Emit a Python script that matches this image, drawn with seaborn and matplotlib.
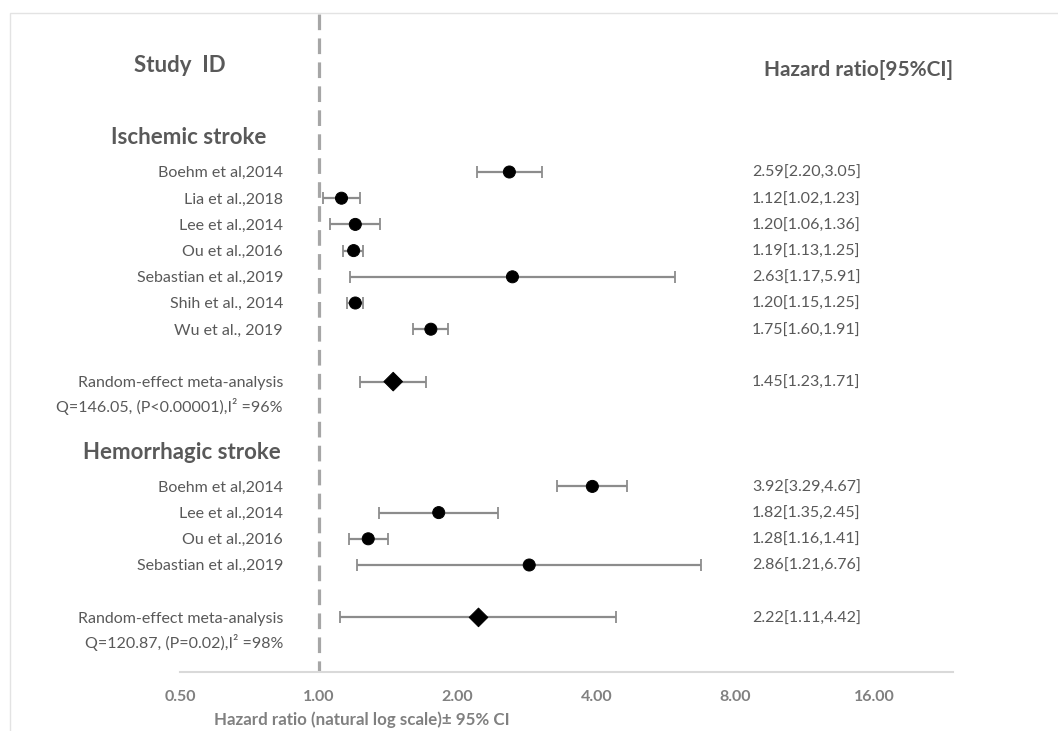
import numpy as np
import pandas as pd
import matplotlib
matplotlib.use("Agg")
import matplotlib.pyplot as plt
from matplotlib.patches import Rectangle
from matplotlib.transforms import blended_transform_factory
import seaborn as sns

# data
groups = ["Ischemic stroke"] * 8 + ["Hemorrhagic stroke"] * 5
studies = ["Boehm et al,2014", "Lia et al.,2018", "Lee et al.,2014", "Ou et al.,2016",
           "Sebastian et al.,2019", "Shih et al., 2014", "Wu et al., 2019",
           "Random-effect meta-analysis",
           "Boehm et al,2014", "Lee et al.,2014", "Ou et al.,2016",
           "Sebastian et al.,2019", "Random-effect meta-analysis"]
kinds = ["study"] * 7 + ["meta"] + ["study"] * 4 + ["meta"]
hr = [2.59, 1.12, 1.20, 1.19, 2.63, 1.20, 1.75, 1.45, 3.92, 1.82, 1.28, 2.86, 2.22]
ci_low = [2.20, 1.02, 1.06, 1.13, 1.17, 1.15, 1.60, 1.23, 3.29, 1.35, 1.16, 1.21, 1.11]
ci_high = [3.05, 1.23, 1.36, 1.25, 5.91, 1.25, 1.91, 1.71, 4.67, 2.45, 1.41, 6.76, 4.42]
heterogeneity = ["Q=146.05, (P<0.00001),I\u00b2 =96%", "Q=120.87, (P=0.02),I\u00b2 =98%"]
x_ticks = [0.5, 1, 2, 4, 8, 16]
x_axis_max = 23.7

TEXT = "#595959"
W, H = 1058, 731

df = pd.DataFrame({"group": groups, "study": studies, "kind": kinds,
                   "hr": hr, "lo": ci_low, "hi": ci_high})

# row layout: studies stacked, a blank row before each meta line, gap between groups
rows = []
r = -1
prev = None
for g, k in zip(df["group"], df["kind"]):
    r += 1
    if prev is not None and g != prev:
        r += 3
    if k == "meta":
        r += 1
    rows.append(r)
    prev = g
df["row"] = rows

sns.set_style("white")
plt.rcParams["font.family"] = ["Lato", "DejaVu Sans"]

fig = plt.figure(figsize=(W / 100, H / 100), dpi=100)
ax = fig.add_axes([0, 0, 1, 1])
ax.set_xscale("log", base=2)

# pixel mapping: 0.5 -> 180px, 16 -> 874px
k = (874 - 180) / 5.0
ax.set_xlim(2 ** (-1 - 180 / k), 2 ** (4 + (W - 874) / k))
row_px = 26.2
ax.set_ylim((H - 172) / row_px, -172 / row_px)
axis_y = (672 - 172) / row_px

ax.errorbar(df["hr"], df["row"], xerr=[df["hr"] - df["lo"], df["hi"] - df["hr"]],
            fmt="none", ecolor="#8c8c8c", elinewidth=1.6, capsize=4, capthick=1.3, zorder=2)
sns.scatterplot(data=df, x="hr", y="row", style="kind", size="kind",
                markers={"study": "o", "meta": "D"}, sizes={"study": 75, "meta": 90},
                color="black", edgecolor="black", legend=False, ax=ax, zorder=3)

# reference line at HR = 1, from the top of the chart down to the axis
ax.vlines(1, -172 / row_px + 14 / row_px, axis_y, color="#a6a6a6", lw=2.3,
          linestyles=[(0, (4.9, 2.6))], zorder=1)

# axis styling
for s in ["top", "right", "left"]:
    ax.spines[s].set_visible(False)
ax.spines["bottom"].set_position(("data", axis_y))
ax.spines["bottom"].set_bounds(0.5, x_axis_max)
ax.spines["bottom"].set_color("#d9d9d9")
ax.spines["bottom"].set_linewidth(1.5)
ax.set_xticks(x_ticks)
ax.set_xticklabels([f"{t:.2f}" for t in x_ticks])
ax.minorticks_off()
ax.tick_params(axis="x", direction="out", length=6, width=1.2, color="#d9d9d9",
               labelcolor="#808080", labelsize=11.5, pad=7)
for lbl in ax.get_xticklabels():
    lbl.set_fontweight("bold")
ax.set_yticks([])
ax.set_xlabel("")
ax.set_ylabel("")

tr = blended_transform_factory(fig.transFigure, ax.transData)
label_x = 283 / W
value_x = 752 / W
for _, row in df.iterrows():
    if row["kind"] == "study":
        ax.text(label_x, row["row"] + 0.05, row["study"], transform=tr, ha="right",
                va="center", fontsize=11.5, color=TEXT)
    ax.text(value_x, row["row"] + 0.05, f"{row['hr']:.2f}[{row['lo']:.2f},{row['hi']:.2f}]",
            transform=tr, ha="left", va="center", fontsize=11.5, color=TEXT)

# group headers and meta-analysis lines
header_x = [266 / W, 281 / W]
for i, g in enumerate(df["group"].unique()):
    sub = df[df["group"] == g]
    first = sub["row"].min()
    ax.text(header_x[i], first - 1.3, g, transform=tr,
            ha="right", va="center", fontsize=16, fontweight="bold", color=TEXT)
    meta_row = sub.loc[sub["kind"] == "meta", "row"].iloc[0]
    ax.text(label_x, meta_row + 0.05, "Random-effect meta-analysis", transform=tr,
            ha="right", va="center", fontsize=11.5, color=TEXT)
    ax.text(label_x, meta_row + 0.95, heterogeneity[i], transform=tr,
            ha="right", va="center", fontsize=11.5, color=TEXT)

fig.text(180 / W, 1 - 66 / H, "Study  ID", ha="center", va="center",
         fontsize=16, fontweight="bold", color=TEXT)
fig.text(859 / W, 1 - 70 / H, "Hazard ratio[95%CI]", ha="center", va="center",
         fontsize=15, fontweight="bold", color=TEXT)
fig.text(362 / W, 1 - 720 / H, "Hazard ratio (natural log scale)\u00b1 95% CI",
         ha="center", va="center", fontsize=12.2, fontweight="bold", color="#808080")

# chart area border
fig.add_artist(Rectangle((10 / W, -0.05), 1.2, 1.05 - 13 / H, transform=fig.transFigure,
                         fill=False, edgecolor="#e3e3e3", lw=1.0))

fig.savefig("out.png", dpi=100, facecolor="white")
